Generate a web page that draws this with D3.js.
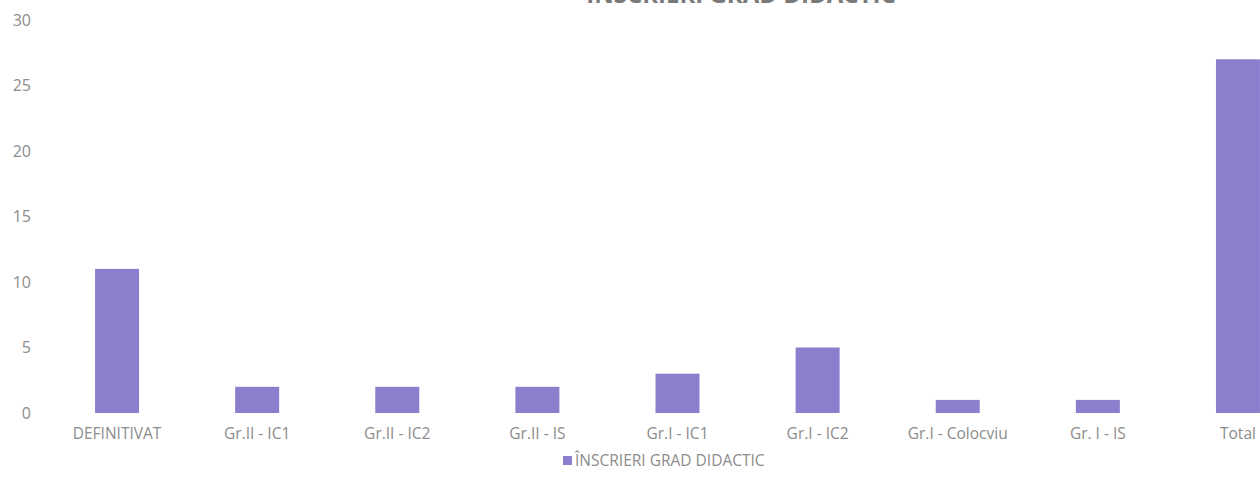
<!DOCTYPE html>
<html>
<head>
<meta charset="utf-8">
<script src="https://cdn.jsdelivr.net/npm/d3@7"></script>
<style>
  body { margin: 0; background: #fff; }
  text { font-family: "Open Sans", "Noto Sans", sans-serif; }
</style>
</head>
<body>
<div id="chart"></div>
<script>
const categories = ["DEFINITIVAT", "Gr.II - IC1", "Gr.II - IC2", "Gr.II - IS", "Gr.I - IC1", "Gr.I - IC2", "Gr.I - Colocviu", "Gr. I - IS", "Total"];
const values = [11, 2, 2, 2, 3, 5, 1, 1, 27];
const yTicks = [0, 5, 10, 15, 20, 25, 30];
const seriesName = "ÎNSCRIERI GRAD DIDACTIC";
const title = "ÎNSCRIERI GRAD DIDACTIC";

const width = 1260;
const height = 481;
const barColor = "#8a7fcc";
const textColor = "#8c8c8c";

const svg = d3
  .select("#chart")
  .append("svg")
  .attr("width", width)
  .attr("height", height);

const xScale = d3
  .scaleBand()
  .domain(categories)
  .range([47, 1308])
  .paddingInner(0.686)
  .paddingOuter(0.343);

const yScale = d3.scaleLinear().domain([0, 30]).range([413, 20]);

// title, mostly cut off at the top edge as in the source picture
svg
  .append("text")
  .attr("x", 741)
  .attr("y", 3)
  .attr("text-anchor", "middle")
  .attr("font-size", 24)
  .attr("font-weight", "bold")
  .attr("fill", "#7a7a7a")
  .text(title);

// y axis labels
const yAxis = svg
  .append("g")
  .attr("transform", "translate(31, 0)")
  .call(d3.axisLeft(yScale).tickValues(yTicks).tickSize(0).tickPadding(0));
yAxis.select(".domain").remove();
yAxis
  .selectAll("text")
  .attr("font-size", 16)
  .attr("fill", textColor)
  .style("font-family", '"Open Sans", sans-serif');

// bars
svg
  .selectAll(".bar")
  .data(values)
  .enter()
  .append("rect")
  .attr("class", "bar")
  .attr("x", (d, i) => xScale(categories[i]))
  .attr("y", (d) => yScale(d))
  .attr("width", xScale.bandwidth())
  .attr("height", (d) => yScale(0) - yScale(d))
  .attr("fill", barColor);

// x axis labels
const xAxis = svg
  .append("g")
  .attr("transform", `translate(0, ${yScale(0)})`)
  .call(d3.axisBottom(xScale).tickSize(0).tickPadding(15));
xAxis.select(".domain").remove();
xAxis
  .selectAll("text")
  .attr("font-size", 15.5)
  .attr("fill", textColor)
  .style("font-family", '"Open Sans", sans-serif');

// legend
const legend = svg.append("g").attr("transform", "translate(563, 461)");
legend
  .append("rect")
  .attr("x", 0)
  .attr("y", -5)
  .attr("width", 9)
  .attr("height", 9)
  .attr("fill", barColor);
legend
  .append("text")
  .attr("x", 12)
  .attr("y", 0)
  .attr("dy", "0.35em")
  .attr("font-size", 15.5)
  .attr("fill", textColor)
  .text(seriesName);
</script>
</body>
</html>
